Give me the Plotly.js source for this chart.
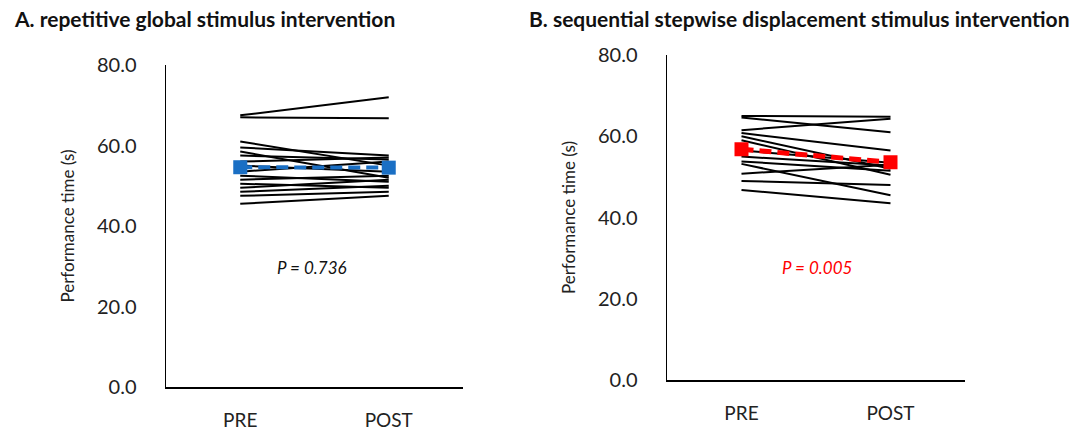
<!DOCTYPE html>
<html><head><meta charset="utf-8">
<script src="https://cdn.plot.ly/plotly-3.0.1.min.js"></script>
<style>html,body{margin:0;padding:0;background:#fff}#chart{width:1083px;height:431px}</style>
</head><body><div id="chart"></div>
<script>
const categories = ["PRE", "POST"];
const yTicks = [0, 20, 40, 60, 80];
const titleA = "A. repetitive global stimulus intervention";
const titleB = "B. sequential stepwise displacement stimulus intervention";
const yTitle = "Performance time (s)";
const pA = "P = 0.736";
const pB = "P = 0.005";

// Panel A: individual PRE / POST values
const aPre  = [67.5, 67.0, 61.0, 59.5, 58.5, 57.5, 56.0, 55.0, 53.5, 52.5, 51.5, 50.5, 49.5, 48.5, 47.5, 45.5];
const aPost = [72.0, 66.8, 55.0, 57.5, 52.0, 56.5, 57.0, 53.5, 56.0, 51.0, 52.5, 49.5, 51.5, 50.0, 48.5, 47.5];
const aMean = [54.6, 54.5];

// Panel B: individual PRE / POST values
const bPre  = [65.0, 64.6, 61.5, 60.8, 60.0, 59.0, 56.5, 55.0, 53.8, 53.2, 50.8, 49.0, 46.8];
const bPost = [64.8, 61.0, 64.3, 56.5, 52.0, 50.5, 53.5, 52.8, 51.5, 45.5, 53.0, 48.0, 43.5];
const bMean = [56.8, 53.6];

const font = "Lato, Liberation Sans, sans-serif";
const traces = [];
aPre.forEach((v, i) => traces.push({x: categories, y: [v, aPost[i]], xaxis: "x", yaxis: "y",
  mode: "lines", line: {color: "#000", width: 2}, hoverinfo: "skip", showlegend: false}));
bPre.forEach((v, i) => traces.push({x: categories, y: [v, bPost[i]], xaxis: "x2", yaxis: "y2",
  mode: "lines", line: {color: "#000", width: 2}, hoverinfo: "skip", showlegend: false}));
traces.push({x: categories, y: aMean, xaxis: "x", yaxis: "y", mode: "lines+markers",
  line: {color: "#1a6fc4", width: 4, dash: "12px,6px"}, marker: {symbol: "square", size: 14, color: "#1a6fc4"}, showlegend: false});
traces.push({x: categories, y: bMean, xaxis: "x2", yaxis: "y2", mode: "lines+markers",
  line: {color: "#ff0000", width: 5, dash: "12px,6px"}, marker: {symbol: "square", size: 14, color: "#ff0000"}, showlegend: false});

const xax = (dom) => ({domain: dom, type: "category", range: [-0.5, 1.5], showline: true, linecolor: "#000", linewidth: 1.5,
  showgrid: false, zeroline: false, ticks: "", tickfont: {family: font, size: 19, color: "#222"}, ticklabelstandoff: 16, fixedrange: true});
const yax = (dom, anchor) => ({domain: dom, anchor: anchor, range: [0, 80], tickvals: yTicks, tickformat: ".1f", showline: true, linecolor: "#000",
  linewidth: 1.5, showgrid: false, zeroline: false, ticks: "", tickfont: {family: font, size: 20, color: "#222"}, ticklabelstandoff: 24,
  title: {text: yTitle, font: {family: font, size: 17, color: "#222"}, standoff: 18}, fixedrange: true});

const layout = {
  width: 1083, height: 431, margin: {l: 0, r: 0, t: 0, b: 0},
  paper_bgcolor: "#fff", plot_bgcolor: "#fff", showlegend: false,
  xaxis: Object.assign(xax([166/1083, 463/1083]), {anchor: "y"}),
  yaxis: yax([1-387/431, 1-65/431], "x"),
  xaxis2: Object.assign(xax([667/1083, 965/1083]), {anchor: "y2"}),
  yaxis2: yax([1-380/431, 1-55/431], "x2"),
  annotations: [
    {text: "<b>" + titleA + "</b>", xref: "paper", yref: "paper", x: 12/1083, y: 1-19/431, xanchor: "left", yanchor: "middle",
     showarrow: false, font: {family: font, size: 21, color: "#111"}},
    {text: "<b>" + titleB + "</b>", xref: "paper", yref: "paper", x: 527/1083, y: 1-19/431, xanchor: "left", yanchor: "middle",
     showarrow: false, font: {family: font, size: 21, color: "#111"}},
    {text: "<i>" + pA + "</i>", xref: "paper", yref: "paper", x: 312/1083, y: 1-267/431, xanchor: "center", yanchor: "middle",
     showarrow: false, font: {family: font, size: 17, color: "#111"}},
    {text: "<i>" + pB + "</i>", xref: "paper", yref: "paper", x: 817/1083, y: 1-267/431, xanchor: "center", yanchor: "middle",
     showarrow: false, font: {family: font, size: 17, color: "#ff0000"}}
  ]
};
Plotly.newPlot("chart", traces, layout, {displayModeBar: false, staticPlot: true});
</script></body></html>
